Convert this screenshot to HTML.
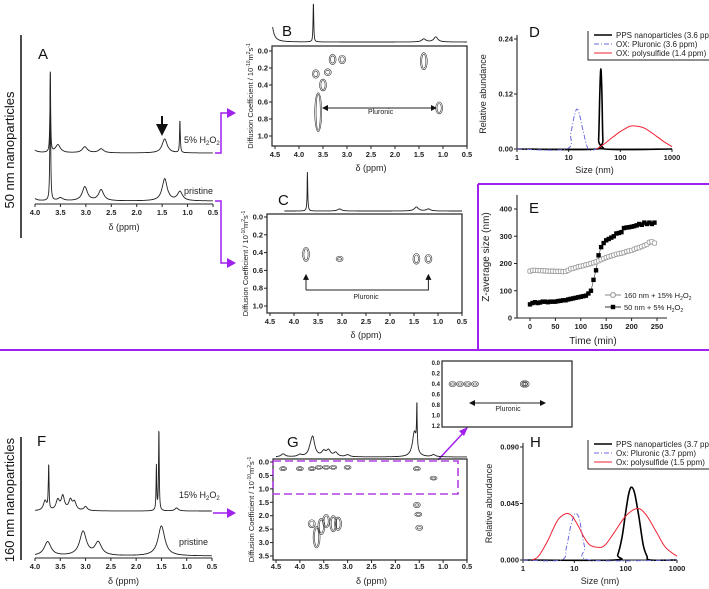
<!DOCTYPE html>
<html><head><meta charset="utf-8">
<style>
html,body{margin:0;padding:0;background:#fff;}
svg{display:block;font-family:"Liberation Sans",sans-serif;}
.t{font-size:7.5px;font-weight:bold;fill:#222;}
.lab{font-size:9px;fill:#222;}
.big{font-size:15px;fill:#111;}
</style></head>
<body>
<svg id="fig" width="709" height="589" viewBox="0 0 709 589" xmlns="http://www.w3.org/2000/svg">
<defs>
<marker id="ah" markerWidth="6" markerHeight="6" refX="5" refY="3" orient="auto"><path d="M0,0 L6,3 L0,6 z" fill="#111"/></marker>
<marker id="ahs" markerWidth="6" markerHeight="6" refX="5" refY="3" orient="auto-start-reverse"><path d="M0,0 L6,3 L0,6 z" fill="#111"/></marker>
</defs>
<g id="static">
<line x1="21" y1="35" x2="21" y2="238" stroke="#111" stroke-width="1.5"/>
<text transform="translate(14,150) rotate(-90)" text-anchor="middle" font-size="13" fill="#111">50 nm nanoparticles</text>
<line x1="21" y1="437" x2="21" y2="560" stroke="#111" stroke-width="1.5"/>
<text transform="translate(14,500) rotate(-90)" text-anchor="middle" font-size="13" fill="#111">160 nm nanoparticles</text>
<line x1="0" y1="350" x2="709" y2="350" stroke="#a020f0" stroke-width="2"/>
<line x1="478" y1="184" x2="478" y2="350" stroke="#a020f0" stroke-width="2"/>
<line x1="478" y1="184" x2="709" y2="184" stroke="#a020f0" stroke-width="2"/>
<polyline points="215,153 221,153 221,113 228,113" fill="none" stroke="#a020f0" stroke-width="1.5"/>
<polygon points="227,108 236,113 227,118" fill="#a020f0"/>
<polyline points="215,201 221,201 221,263 228,263" fill="none" stroke="#a020f0" stroke-width="1.5"/>
<polygon points="227,258 236,263 227,268" fill="#a020f0"/>
<line x1="213" y1="513" x2="228" y2="513" stroke="#a020f0" stroke-width="1.5"/>
<polygon points="227,508 236,513 227,518" fill="#a020f0"/>
<line x1="438" y1="460" x2="464" y2="432" stroke="#a020f0" stroke-width="1.5"/>
<polygon points="468,427 459,431 464,436" fill="#a020f0"/>
<text class="big" x="38" y="59">A</text>
<text class="big" x="282" y="36">B</text>
<text class="big" x="278" y="205">C</text>
<text class="big" x="529" y="37">D</text>
<text class="big" x="529" y="213">E</text>
<text class="big" x="37" y="446">F</text>
<text class="big" x="287" y="447">G</text>
<text class="big" x="530" y="447">H</text>
<text class="lab" x="184" y="143">5% H<tspan font-size="6" dy="2">2</tspan><tspan dy="-2">O</tspan><tspan font-size="6" dy="2">2</tspan></text>
<text class="lab" x="184" y="194">pristine</text>
<line x1="162" y1="116" x2="162" y2="134" stroke="#111" stroke-width="2" marker-end="url(#ah)"/>
<text class="lab" x="179" y="498">15% H<tspan font-size="6" dy="2">2</tspan><tspan dy="-2">O</tspan><tspan font-size="6" dy="2">2</tspan></text>
<text class="lab" x="179" y="545">pristine</text>
</g>
<g id="dyn"></g>
</svg>
<script>
const nmrA5Ppm = [4.1, 3.7, 3.55, 3.02, 2.7, 1.45, 1.15];
const nmrA5Int = [10, 80, 8, 6, 4, 14, 33];
const nmrAPrPpm = [4.05, 3.7, 3.5, 3.02, 2.7, 1.45, 1.15];
const nmrAPrInt = [4, 128, 3, 14, 11, 22, 9];
const nmrF15Ppm = [3.8, 3.73, 3.55, 3.45, 3.3, 3.22, 3.0, 1.6, 1.55, 1.2];
const nmrF15Int = [10, 45, 10, 14, 10, 8, 4, 45, 83, 3];
const nmrFPrPpm = [3.75, 3.05, 2.75, 1.5];
const nmrFPrInt = [14, 24, 13, 30];
const projBPpm = [4.6, 3.7, 1.4, 1.15];
const projBInt = [30, 40, 3, 5];
const projCPpm = [3.72, 3.05, 1.45, 1.2];
const projCInt = [39, 2, 4, 2];
const projGPpm = [4.35, 4.0, 3.78, 3.73, 3.5, 3.4, 3.25, 3.0, 1.6, 1.55, 1.2];
const projGInt = [3, 2, 5, 18, 5, 6, 4, 2, 25, 44, 2];
const dosyBPpm = [3.65, 3.6, 3.5, 3.4, 3.3, 3.1, 1.4, 1.08];
const dosyBD = [0.27, 0.72, 0.4, 0.25, 0.1, 0.1, 0.12, 0.67];
const dosyBH = [0.05, 0.23, 0.07, 0.04, 0.06, 0.05, 0.1, 0.07];
const dosyCPpm = [3.75, 3.05, 1.45, 1.2];
const dosyCD = [0.42, 0.47, 0.47, 0.47];
const dosyCH = [0.08, 0.03, 0.06, 0.05];
const dosyGPpm = [4.35, 4.0, 3.75, 3.6, 3.45, 3.3, 3.0, 1.55, 1.2, 3.75, 3.65, 3.55, 3.45, 3.3, 3.2, 1.55, 1.52, 1.5];
const dosyGD = [0.25, 0.25, 0.25, 0.2, 0.2, 0.2, 0.2, 0.25, 0.6, 2.3, 2.8, 2.4, 2.2, 2.3, 2.3, 1.6, 1.95, 2.45];
const dosyGH = [0.05, 0.05, 0.05, 0.05, 0.05, 0.05, 0.05, 0.08, 0.05, 0.15, 0.4, 0.3, 0.25, 0.3, 0.25, 0.1, 0.08, 0.1];
const insetPpm = [3.9, 3.7, 3.5, 3.3, 2.0, 1.95];
const insetD = [0.4, 0.4, 0.4, 0.4, 0.4, 0.4];
const dPpsSize = [1, 35, 38, 40, 42, 44, 46, 50, 1000];
const dPpsVal = [0, 0, 0.02, 0.12, 0.175, 0.12, 0.02, 0, 0];
const dPluSize = [1, 9, 11, 13, 14.5, 16, 19, 24, 35];
const dPluVal = [0, 0, 0.035, 0.075, 0.087, 0.078, 0.04, 0, 0];
const dPolSize = [35, 50, 70, 100, 150, 200, 300, 500, 700, 1000];
const dPolVal = [0, 0.012, 0.025, 0.038, 0.049, 0.05, 0.045, 0.028, 0.016, 0.005];
const dTicksY = [0, 0.12, 0.24];
const dTickLabelsY = ["0.00", "0.12", "0.24"];
const sizeTicks = [1, 10, 100, 1000];
const hPpsSize = [1, 60, 70, 85, 100, 115, 130, 150, 180, 220, 260, 300, 1000];
const hPpsVal = [0, 0, 0.004, 0.018, 0.038, 0.053, 0.058, 0.053, 0.035, 0.012, 0.003, 0, 0];
const hPluSize = [1, 5.5, 7, 8.5, 10, 11, 12.5, 14, 16, 20, 1000];
const hPluVal = [0, 0, 0.01, 0.027, 0.036, 0.037, 0.033, 0.022, 0.01, 0, 0];
const hPolSize = [1.5, 2, 3, 4, 5, 7, 9, 12, 15, 20, 30, 40, 60, 100, 170, 250, 400, 600, 1000];
const hPolVal = [0, 0.003, 0.015, 0.026, 0.033, 0.037, 0.035, 0.027, 0.019, 0.012, 0.01, 0.012, 0.022, 0.035, 0.041, 0.036, 0.022, 0.01, 0.003];
const hTicksY = [0, 0.045, 0.09];
const hTickLabelsY = ["0.000", "0.045", "0.090"];
const eTime = [0,5,10,15,20,25,30,35,40,45,50,55,60,65,70,75,80,85,90,95,100,105,110,115,120,125,130,135,140,145,150,155,160,165,170,175,180,185,190,195,200,205,210,215,220,225,230,235,240,245];
const e50 = [50,55,58,55,57,60,60,58,60,60,60,62,63,65,65,68,70,72,74,76,78,80,82,90,100,140,175,230,260,275,285,290,295,300,310,312,315,330,332,333,335,337,340,345,342,350,345,350,345,350];
const e160 = [172,175,175,174,174,173,173,172,172,172,171,171,171,170,171,175,180,182,185,188,190,192,195,197,200,203,206,210,214,218,222,225,228,231,234,236,238,240,244,246,248,252,256,258,262,266,270,278,280,275];
const eTicksX = [0, 50, 100, 150, 200, 250];
const eTicksY = [0, 100, 200, 300, 400];
const ppmTicksA = [4.0, 3.5, 3.0, 2.5, 2.0, 1.5, 1.0, 0.5];
const ppmTicksB = [4.5, 4.0, 3.5, 3.0, 2.5, 2.0, 1.5, 1.0, 0.5];
const dTicksB = [0.0, 0.2, 0.4, 0.6, 0.8, 1.0];
const dTicksG = [0.0, 0.5, 1.0, 1.5, 2.0, 2.5, 3.0, 3.5];
const dTicksInset = [0.0, 0.2, 0.4, 0.6, 0.8, 1.0, 1.2];

const NS = "http://www.w3.org/2000/svg";
const root = document.getElementById("dyn");
function mk(tag, attrs, parent) {
  const e = document.createElementNS(NS, tag);
  for (const k in attrs) e.setAttribute(k, attrs[k]);
  (parent || root).appendChild(e);
  return e;
}
function txt(s, x, y, cls, anchor, parent) {
  const e = mk("text", {x: x, y: y, class: cls, "text-anchor": anchor || "middle"}, parent);
  e.textContent = s;
  return e;
}
function lin(ppm, a, b) { return (x) => a + (ppm[0] - x) / (ppm[0] - ppm[1]) * (b - a); }
function scale(d0, d1, r0, r1) { return (v) => r0 + (v - d0) / (d1 - d0) * (r1 - r0); }
function logScale(r0, r1) { return (v) => r0 + Math.log10(v) / 3 * (r1 - r0); }
function spectrum(pos, inten, xs, base, lo, hi, w) {
  let d = "";
  for (let p = lo; p >= hi; p -= 0.004) {
    let y = 0;
    for (let i = 0; i < pos.length; i++) {
      const ww = inten[i] > 30 ? 0.008 : (w || 0.05);
      y += inten[i] * ww * ww / ((p - pos[i]) * (p - pos[i]) + ww * ww);
    }
    d += (d ? "L" : "M") + xs(p).toFixed(1) + "," + (base - y).toFixed(1);
  }
  return d;
}
function smooth(pts) {
  let d = "M" + pts[0][0] + "," + pts[0][1];
  for (let i = 0; i < pts.length - 1; i++) {
    const p0 = pts[Math.max(0, i - 1)], p1 = pts[i], p2 = pts[i + 1], p3 = pts[Math.min(pts.length - 1, i + 2)];
    const c1x = p1[0] + (p2[0] - p0[0]) / 6, c1y = p1[1] + (p2[1] - p0[1]) / 6;
    const c2x = p2[0] - (p3[0] - p1[0]) / 6, c2y = p2[1] - (p3[1] - p1[1]) / 6;
    d += "C" + c1x.toFixed(1) + "," + c1y.toFixed(1) + " " + c2x.toFixed(1) + "," + c2y.toFixed(1) + " " + p2[0].toFixed(1) + "," + p2[1].toFixed(1);
  }
  return d;
}
function ppmAxis(xs, ticks, y, labelY, title, titleY) {
  ticks.forEach(t => {
    const tk = mk("line", {x1: xs(t), y1: y, x2: xs(t), y2: y + 3, stroke: "#222"});
    
    
    const tl = txt(t.toFixed(1), xs(t), labelY, "t");
    
    
  });
  const tt = txt("δ (ppm)", (xs(ticks[0]) + xs(ticks[ticks.length - 1])) / 2, titleY, "lab");
  
  
}
function dAxis(ys, ticks, x, digits) {
  ticks.forEach(t => {
    const tk = mk("line", {x1: x - 3, y1: ys(t), x2: x, y2: ys(t), stroke: "#222"});
    
    
    const tl = txt(t.toFixed(1), x - 4, ys(t) + 2.5, "t", "end");
    
    
  });
}
function contours(pp, dd, hh, xs, ys, g, w) {
  for (let i = 0; i < pp.length; i++) {
    const ry = Math.max(2, (ys(dd[i] + hh[i]) - ys(dd[i] - hh[i])) / 2);
    for (let k = 0; k < 2; k++) {
      const c = mk("ellipse", {cx: xs(pp[i]), cy: ys(dd[i]), rx: Math.max(1, (w || 3.5) - k * 1.4), ry: Math.max(1, ry - k * 1.5), fill: "none", stroke: "#333", "stroke-width": 0.6}, g);
      
      
    }
  }
}
function axisTitleV(s, x, y, parent) {
  const e = mk("text", {transform: "translate(" + x + "," + y + ") rotate(-90)", "text-anchor": "middle", class: "lab"}, parent);
  e.innerHTML = s;
  return e;
}

{
  const xs = lin(ppmTicksA, 35, 35 + 178 / 7);
  const g = mk("g", {});
  
  
  const s1 = mk("path", {d: spectrum(nmrA5Ppm, nmrA5Int, xs, 153, 4.0, 0.5, 0.06), fill: "none", stroke: "#222", "stroke-width": 0.9}, g);
  
  
  const s2 = mk("path", {d: spectrum(nmrAPrPpm, nmrAPrInt, xs, 201, 4.0, 0.5, 0.06), fill: "none", stroke: "#222", "stroke-width": 0.9}, g);
  
  
  const ax = mk("line", {x1: 35, y1: 204, x2: 213, y2: 204, stroke: "#222"}, g);
  
  
  ppmAxis(xs, ppmTicksA, 204, 215, "", 230);
}
{
  const xs = lin(ppmTicksA, 35, 35 + 177 / 7);
  const g = mk("g", {});
  
  
  const s1 = mk("path", {d: spectrum(nmrF15Ppm, nmrF15Int, xs, 511, 4.0, 0.5, 0.04), fill: "none", stroke: "#222", "stroke-width": 0.9}, g);
  
  
  const s2 = mk("path", {d: spectrum(nmrFPrPpm, nmrFPrInt, xs, 556, 4.0, 0.5, 0.08), fill: "none", stroke: "#222", "stroke-width": 0.9}, g);
  
  
  const ax = mk("line", {x1: 35, y1: 558, x2: 212, y2: 558, stroke: "#222"}, g);
  
  
  ppmAxis(xs, ppmTicksA, 558, 569, "", 584);
}
function dosy(name, x0, x1, stripBase, projP, projI, boxTop, boxBot, ys, dTicks, cp, cd, ch, labelY, titleY, startLo) {
  const xs = lin(ppmTicksB, x0, x0 + (x1 - x0) / 8);
  const g = mk("g", {});
  
  
  const p = mk("path", {d: spectrum(projP, projI, xs, stripBase, startLo, 0.5, 0.05), fill: "none", stroke: "#222", "stroke-width": 0.9}, g);
  
  
  const b = mk("rect", {x: x0 - 3, y: boxTop, width: x1 - x0 + 3, height: boxBot - boxTop, fill: "none", stroke: "#222", "stroke-width": 1.2}, g);
  
  
  dAxis(ys, dTicks, x0 - 3);
  ppmAxis(xs, ppmTicksB, boxBot, labelY, "", titleY);
  contours(cp, cd, ch, xs, ys, g);
  const yt = axisTitleV("Diffusion Coefficient / 10<tspan font-size='5' dy='-3'>-10</tspan><tspan dy='3'>m</tspan><tspan font-size='5' dy='-3'>2</tspan><tspan dy='3'>s</tspan><tspan font-size='5' dy='-3'>-1</tspan>", x0 - 22, (boxTop + boxBot) / 2, g);
  
  
  yt.style.fontSize = "7.5px";
  return {xs: xs, g: g};
}
{
  const ys = scale(0, 1, 51, 136);
  const r = dosy("panel-b", 275, 467, 42, projBPpm, projBInt, 46, 146, ys, dTicksB, dosyBPpm, dosyBD, dosyBH, 157, 171, 4.55);
  const a = mk("line", {x1: r.xs(3.5), y1: ys(0.67), x2: r.xs(1.15), y2: ys(0.67), stroke: "#222", "marker-end": "url(#ah)", "marker-start": "url(#ahs)"}, r.g);
  
  
  const t = txt("Pluronic", r.xs(2.3), ys(0.74), "lab", "middle", r.g);
  
  
  t.style.fontSize = "7px";
}
{
  const ys = scale(0, 1, 217, 306);
  const r = dosy("panel-c", 270, 462, 211, projCPpm, projCInt, 214, 313, ys, dTicksB, dosyCPpm, dosyCD, dosyCH, 324, 338, 4.2);
  const l = mk("path", {d: "M" + r.xs(3.75) + "," + ys(0.82) + "H" + r.xs(1.2) + "V" + ys(0.65), fill: "none", stroke: "#222", "marker-end": "url(#ah)"}, r.g);
  
  
  const l2 = mk("line", {x1: r.xs(3.75), y1: ys(0.82), x2: r.xs(3.75), y2: ys(0.65), stroke: "#222", "marker-end": "url(#ah)"}, r.g);
  
  
  const t = txt("Pluronic", r.xs(2.5), ys(0.92), "lab", "middle", r.g);
  
  
  t.style.fontSize = "7px";
}
{
  const ys = scale(0, 3.5, 462, 556);
  const r = dosy("panel-g", 276, 467, 457, projGPpm, projGInt, 459, 560, ys, dTicksG, dosyGPpm, dosyGD, dosyGH, 569, 584, 4.5);
  const db = mk("rect", {x: 273, y: 461, width: 185, height: 33, fill: "none", stroke: "#b040e0", "stroke-width": 1.6, "stroke-dasharray": "8,4"}, r.g);
  
  
  const ig = mk("g", {});
  
  
  const ib = mk("rect", {x: 442, y: 361, width: 130, height: 66, fill: "#fff", stroke: "#222", "stroke-width": 1.2}, ig);
  
  
  const iys = scale(0, 1.2, 363, 426);
  dTicksInset.forEach(t => {
    const tl = txt(t.toFixed(1), 440, iys(t) + 2, "t", "end", ig);
    
    
    tl.style.fontSize = "6px";
  });
  const ixs = lin(ppmTicksB, 430, 430 + 150 / 8);
  contours(insetPpm, insetD, [0.05, 0.05, 0.05, 0.05, 0.06, 0.06], ixs, iys, ig, 3.5);
  const pa = mk("line", {x1: 470, y1: 403, x2: 545, y2: 403, stroke: "#222", "marker-end": "url(#ah)", "marker-start": "url(#ahs)"}, ig);
  
  
  const pt = txt("Pluronic", 508, 411, "lab", "middle", ig);
  
  
  pt.style.fontSize = "7px";
}
function dist(name, x0, x1, y0, y1, vmax, tY, tL, series, legend, legTop) {
  const xs = logScale(x0, x1), ys = scale(0, vmax, y0, y1);
  const g = mk("g", {});
  
  
  const ax = mk("path", {d: "M" + x0 + "," + (y1 - 4) + "V" + y0 + "H" + x1, fill: "none", stroke: "#222", "stroke-width": 1.1}, g);
  
  
  tY.forEach((t, i) => {
    const tk = mk("line", {x1: x0 - 3, y1: ys(t), x2: x0, y2: ys(t), stroke: "#222"}, g);
    
    
    const tl = txt(tL[i], x0 - 4, ys(t) + 2.5, "t", "end", g);
    
    
  });
  sizeTicks.forEach(t => {
    const tk = mk("line", {x1: xs(t), y1: y0, x2: xs(t), y2: y0 + 3, stroke: "#222"}, g);
    
    
    const tl = txt(String(t), xs(t), y0 + 11, "t", "middle", g);
    
    
  });
  const xt = txt("Size (nm)", (x0 + x1) / 2, y0 + 24, "lab", "middle", g);
  
  
  const yt = axisTitleV("Relative abundance", x0 - 31, (y0 + y1) / 2, g);
  
  
  series.forEach(s => {
    const pts = s.x.map((v, i) => [xs(v), ys(s.y[i])]);
    const p = mk("path", {d: smooth(pts), fill: "none", stroke: s.c, "stroke-width": s.w, "stroke-dasharray": s.dash || "none"}, g);
    
    
  });
  const lb = mk("path", {d: "M588," + legTop + "V" + (legTop + 29) + "H709", fill: "none", stroke: "#222"}, g);
  
  
  legend.forEach((l, i) => {
    const yy = legTop + 4 + i * 9;
    const ll = mk("line", {x1: 594, y1: yy, x2: 612, y2: yy, stroke: series[i].c, "stroke-width": series[i].w, "stroke-dasharray": series[i].dash || "none"}, g);
    
    
    const lt = txt(l, 616, yy + 3, "lab", "start", g);
    
    
    lt.style.fontSize = "8px";
  });
}
dist("panel-d", 517, 672, 149, 39, 0.24, dTicksY, dTickLabelsY, [
  {name: "pps-curve-d", x: dPpsSize, y: dPpsVal, c: "#000", w: 1.6},
  {name: "pluronic-curve-d", x: dPluSize, y: dPluVal, c: "#6a6ae0", w: 1, dash: "5,2,1,2"},
  {name: "polysulfide-curve-d", x: dPolSize, y: dPolVal, c: "#ee2233", w: 1}
], ["PPS nanoparticles (3.6 ppm)", "OX: Pluronic (3.6 ppm)", "OX: polysulfide (1.4 ppm)"], 31);
dist("panel-h", 523, 677, 560, 447, 0.09, hTicksY, hTickLabelsY, [
  {name: "pps-curve-h", x: hPpsSize, y: hPpsVal, c: "#000", w: 1.6},
  {name: "pluronic-curve-h", x: hPluSize, y: hPluVal, c: "#6a6ae0", w: 1, dash: "5,2,1,2"},
  {name: "polysulfide-curve-h", x: hPolSize, y: hPolVal, c: "#ee2233", w: 1}
], ["PPS nanoparticles (3.7 ppm)", "Ox: Pluronic (3.7 ppm)", "Ox: polysulfide (1.5 ppm)"], 440);
{
  const xs = scale(0, 250, 530, 657), ys = scale(0, 400, 318, 209);
  const g = mk("g", {});
  
  
  const ax = mk("path", {d: "M517,195V318H667", fill: "none", stroke: "#222", "stroke-width": 1.1}, g);
  
  
  eTicksY.forEach(t => {
    const tk = mk("line", {x1: 514, y1: ys(t), x2: 517, y2: ys(t), stroke: "#222"}, g);
    
    
    const tl = txt(String(t), 512, ys(t) + 2.5, "t", "end", g);
    
    
  });
  eTicksX.forEach(t => {
    const tk = mk("line", {x1: xs(t), y1: 318, x2: xs(t), y2: 321, stroke: "#222"}, g);
    
    
    const tl = txt(String(t), xs(t), 329, "t", "middle", g);
    
    
  });
  const xt = txt("Time (min)", 593, 344, "lab", "middle", g);
  
  
  xt.style.fontSize = "10px";
  const yt = axisTitleV("Z-average size (nm)", 489, 257, g);
  
  
  yt.style.fontSize = "10px";
  const l1 = mk("path", {d: "M" + eTime.map((t, i) => xs(t).toFixed(1) + "," + ys(e160[i]).toFixed(1)).join("L"), fill: "none", stroke: "#888", "stroke-width": 0.6}, g);
  
  
  const l2 = mk("path", {d: "M" + eTime.map((t, i) => xs(t).toFixed(1) + "," + ys(e50[i]).toFixed(1)).join("L"), fill: "none", stroke: "#333", "stroke-width": 0.6}, g);
  
  
  eTime.forEach((t, i) => {
    const a = mk("rect", {x: xs(t) - 2.2, y: ys(e160[i]) - 2.2, width: 4.4, height: 4.4, fill: "#fff", stroke: "#999", "stroke-width": 0.8, rx: 1.5}, g);
    
    
    const b = mk("rect", {x: xs(t) - 2.2, y: ys(e50[i]) - 2.2, width: 4.4, height: 4.4, fill: "#000"}, g);
    
    
  });
  const lg1 = mk("line", {x1: 605, y1: 295, x2: 621, y2: 295, stroke: "#888"}, g);
  
  
  const lm1 = mk("rect", {x: 610.8, y: 292.8, width: 4.4, height: 4.4, fill: "#fff", stroke: "#999", rx: 1.5}, g);
  
  
  const lt1 = txt("", 624, 298, "lab", "start", g);
  lt1.innerHTML = "160 nm +  15% H<tspan font-size='5' dy='2'>2</tspan><tspan dy='-2'>O</tspan><tspan font-size='5' dy='2'>2</tspan>";
  
  
  lt1.style.fontSize = "7.5px";
  const lg2 = mk("line", {x1: 605, y1: 307, x2: 621, y2: 307, stroke: "#333"}, g);
  
  
  const lm2 = mk("rect", {x: 610.8, y: 304.8, width: 4.4, height: 4.4, fill: "#000"}, g);
  
  
  const lt2 = txt("", 624, 310, "lab", "start", g);
  lt2.innerHTML = "50 nm +  5% H<tspan font-size='5' dy='2'>2</tspan><tspan dy='-2'>O</tspan><tspan font-size='5' dy='2'>2</tspan>";
  
  
  lt2.style.fontSize = "7.5px";
}
</script>
</body></html>
